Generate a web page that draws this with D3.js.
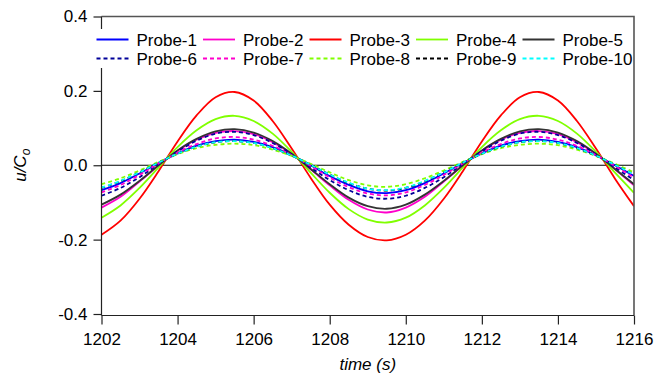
<!DOCTYPE html>
<html>
<head>
<meta charset="utf-8">
<script src="https://cdn.jsdelivr.net/npm/d3@7"></script>
<style>
  body { margin: 0; background: #fff; }
  svg { display: block; font-family: Arial, "Liberation Sans", Helvetica, sans-serif; }
</style>
</head>
<body>
<div id="chart"></div>
<script>
// time axis (s)
const times = [1202, 1202.5, 1203, 1203.5, 1204, 1204.5, 1205, 1205.5, 1206, 1206.5,
  1207, 1207.5, 1208, 1208.5, 1209, 1209.5, 1210, 1210.5, 1211, 1211.5,
  1212, 1212.5, 1213, 1213.5, 1214, 1214.5, 1215, 1215.5, 1216];

// u/Co for each probe
const probe1 = [-0.067,-0.048,-0.022,0.006,0.032,0.053,0.065,0.069,0.063,0.049,0.027,0.000,-0.029,-0.053,-0.070,-0.075,
  -0.067,-0.048,-0.022,0.006,0.032,0.053,0.065,0.069,0.063,0.049,0.027,0.000,-0.029];
const probe2 = [-0.114,-0.085,-0.044,-0.001,0.039,0.069,0.087,0.092,0.084,0.062,0.030,-0.011,-0.054,-0.093,-0.119,-0.127,
  -0.114,-0.085,-0.044,-0.001,0.039,0.069,0.087,0.092,0.084,0.062,0.030,-0.011,-0.054];
const probe3 = [-0.187,-0.149,-0.090,-0.016,0.064,0.134,0.183,0.197,0.174,0.119,0.045,-0.034,-0.106,-0.160,-0.193,-0.202,
  -0.187,-0.149,-0.090,-0.016,0.064,0.134,0.183,0.197,0.174,0.119,0.045,-0.036,-0.110];
const probe4 = [-0.141,-0.108,-0.061,-0.006,0.049,0.094,0.124,0.133,0.119,0.085,0.036,-0.020,-0.074,-0.118,-0.146,-0.154,
  -0.141,-0.108,-0.061,-0.006,0.049,0.094,0.124,0.133,0.119,0.085,0.036,-0.020,-0.074];
const probe5 = [-0.106,-0.079,-0.042,0.000,0.040,0.071,0.091,0.097,0.088,0.065,0.031,-0.010,-0.051,-0.087,-0.110,-0.117,
  -0.106,-0.079,-0.042,0.000,0.040,0.071,0.091,0.097,0.088,0.065,0.031,-0.010,-0.051];
const probe6 = [-0.082,-0.061,-0.032,0.003,0.037,0.066,0.085,0.090,0.081,0.060,0.029,-0.006,-0.040,-0.067,-0.085,-0.090,
  -0.082,-0.061,-0.032,0.003,0.037,0.066,0.085,0.090,0.081,0.060,0.029,-0.006,-0.040];
const probe7 = [-0.073,-0.053,-0.026,0.005,0.034,0.057,0.072,0.076,0.069,0.052,0.027,-0.002,-0.033,-0.059,-0.076,-0.081,
  -0.073,-0.053,-0.026,0.005,0.034,0.057,0.072,0.076,0.069,0.052,0.027,-0.002,-0.033];
const probe8 = [-0.051,-0.035,-0.014,0.009,0.030,0.046,0.055,0.058,0.054,0.042,0.025,0.004,-0.019,-0.040,-0.054,-0.058,
  -0.051,-0.035,-0.014,0.009,0.030,0.046,0.055,0.058,0.054,0.042,0.025,0.004,-0.019];
const probe9 = [-0.061,-0.043,-0.019,0.007,0.031,0.050,0.062,0.065,0.060,0.046,0.026,0.001,-0.025,-0.048,-0.063,-0.068,
  -0.061,-0.043,-0.019,0.007,0.031,0.050,0.062,0.065,0.060,0.046,0.026,0.001,-0.025];
const probe10 = [-0.060,-0.042,-0.019,0.007,0.031,0.050,0.062,0.065,0.060,0.046,0.026,0.001,-0.025,-0.047,-0.063,-0.067,
  -0.060,-0.042,-0.019,0.007,0.031,0.050,0.062,0.065,0.060,0.046,0.026,0.001,-0.025];

const probeNames = ["Probe-1","Probe-2","Probe-3","Probe-4","Probe-5","Probe-6","Probe-7","Probe-8","Probe-9","Probe-10"];
const probeValues = [probe1, probe2, probe3, probe4, probe5, probe6, probe7, probe8, probe9, probe10];

const xTicks = [1202, 1204, 1206, 1208, 1210, 1212, 1214, 1216];
const yTicks = [-0.4, -0.2, 0.0, 0.2, 0.4];
const yTickLabels = ["-0.4", "-0.2", "0.0", "0.2", "0.4"];

// styles
const colors = ["#0000ff","#ff00cc","#ff0000","#80ff00","#333333","#000099","#ff00cc","#80ff00","#000000","#00ffff"];
const dashed = [false,false,false,false,false,true,true,true,true,true];

const width = 654, height = 375;
const plotL = 101.5, plotR = 634, plotT = 16.5, plotB = 314, axisY = 315.5;

const svg = d3.select("#chart").append("svg")
    .attr("width", width)
    .attr("height", height);

const x = d3.scaleLinear().domain([1202, 1216]).range([plotL, plotR]);
const y = d3.scaleLinear().domain([-0.4, 0.4]).range([plotB, plotT]);

svg.append("defs").append("clipPath").attr("id", "plotclip")
  .append("rect").attr("x", plotL).attr("y", plotT).attr("width", plotR - plotL).attr("height", axisY - plotT);

// zero line
svg.append("line")
    .attr("x1", plotL).attr("x2", plotR)
    .attr("y1", y(0)).attr("y2", y(0))
    .attr("stroke", "#000").attr("stroke-width", 1.2);

// curves
const line = d3.line()
    .x((d, i) => x(times[i]))
    .y(d => y(d))
    .curve(d3.curveCatmullRom.alpha(0.5));

const curves = svg.append("g").attr("clip-path", "url(#plotclip)");
probeValues.forEach((vals, i) => {
  curves.append("path")
    .attr("d", line(vals))
    .attr("fill", "none")
    .attr("stroke", colors[i])
    .attr("stroke-width", 1.8)
    .attr("stroke-dasharray", dashed[i] ? "4,3" : null);
});

// frame top and right
svg.append("path")
    .attr("d", `M${plotL},${plotT}H${plotR}V${axisY}`)
    .attr("fill", "none").attr("stroke", "#555").attr("stroke-width", 1.6);

// y axis
const yAxis = svg.append("g")
    .attr("transform", `translate(${plotL},0)`)
    .call(d3.axisLeft(y).tickValues(yTicks).tickFormat((d, i) => yTickLabels[i]).tickSize(8).tickPadding(6));
yAxis.select(".domain").remove();
yAxis.selectAll("line").attr("stroke", "#222").attr("stroke-width", 1.2);
yAxis.selectAll("text").attr("font-size", 17).attr("fill", "#000")
    .attr("font-family", "Arial, 'Liberation Sans', sans-serif");
svg.append("line")
    .attr("x1", plotL).attr("x2", plotL).attr("y1", plotT).attr("y2", axisY)
    .attr("stroke", "#222").attr("stroke-width", 1.2);

// x axis
const xAxis = svg.append("g")
    .attr("transform", `translate(0,${axisY})`)
    .call(d3.axisBottom(x).tickValues(xTicks).tickFormat(d3.format("d")).tickSize(9).tickPadding(8));
xAxis.select(".domain").remove();
xAxis.selectAll("line").attr("stroke", "#222").attr("stroke-width", 1.2);
xAxis.selectAll("text").attr("font-size", 17).attr("fill", "#000")
    .attr("font-family", "Arial, 'Liberation Sans', sans-serif");
svg.append("line")
    .attr("x1", plotL).attr("x2", plotR).attr("y1", axisY).attr("y2", axisY)
    .attr("stroke", "#222").attr("stroke-width", 1.2);

// axis titles
svg.append("text")
    .attr("x", (plotL + plotR) / 2).attr("y", 370)
    .attr("text-anchor", "middle")
    .attr("font-size", 17).attr("font-style", "italic")
    .text("time (s)");

const yTitle = svg.append("text")
    .attr("transform", `translate(26,${(plotT + plotB) / 2}) rotate(-90)`)
    .attr("text-anchor", "middle")
    .attr("font-size", 17).attr("font-style", "italic");
yTitle.append("tspan").text("u/C");
yTitle.append("tspan").attr("font-size", 12).attr("dy", 4).text("o");

// legend
const legend = svg.append("g");
legend.append("rect")
    .attr("x", 93).attr("y", 29).attr("width", 537).attr("height", 39)
    .attr("fill", "#fff");

probeNames.forEach((name, i) => {
  const col = i % 5, row = Math.floor(i / 5);
  const x0 = 96.5 + col * 106.5;
  const y0 = 39.5 + row * 19;
  legend.append("line")
    .attr("x1", x0).attr("x2", x0 + 32)
    .attr("y1", y0).attr("y2", y0)
    .attr("stroke", colors[i]).attr("stroke-width", 1.8)
    .attr("stroke-dasharray", dashed[i] ? "4,3" : null);
  legend.append("text")
    .attr("x", x0 + 40).attr("y", y0)
    .attr("dy", "0.36em")
    .attr("font-size", 17)
    .text(name);
});
</script>
</body>
</html>
